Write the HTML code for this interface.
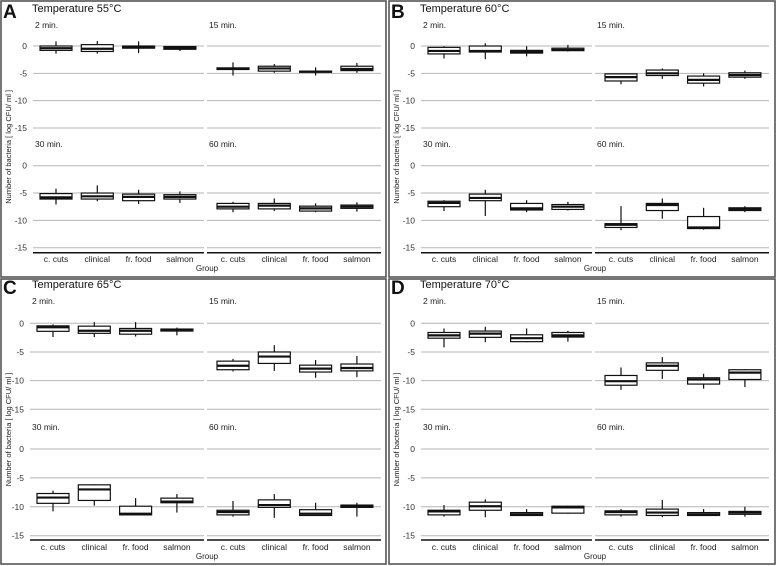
<!DOCTYPE html>
<html><head><meta charset="utf-8"><style>
html,body{margin:0;padding:0;background:#fff;}
svg{display:block;font-family:"Liberation Sans",sans-serif;}
</style></head><body>
<svg id="chart" width="777" height="566" viewBox="0 0 777 566" xmlns="http://www.w3.org/2000/svg"></svg>
<script>
const categories = ["c. cuts","clinical","fr. food","salmon"];
const timeLabels = ["2 min.","15 min.","30 min.","60 min."];
const yTicks = [0,-5,-10,-15];
const panelLetters = ["A","B","C","D"];
const panelTemps = ["Temperature 55°C","Temperature 60°C","Temperature 65°C","Temperature 70°C"];

// Each array: 16 values = 4 time subpanels x 4 categories
const A_lo  = [-1.4,-1.4,-1.3,-0.9, -5.4,-4.9,-5.4,-4.9, -7.1,-6.5,-7.0,-6.8, -8.5,-8.3,-8.5,-8.4];
const A_q1  = [-0.8,-1.0,-0.4,-0.6, -4.3,-4.6,-4.8,-4.5, -6.1,-6.1,-6.4,-6.1, -7.9,-7.9,-8.3,-7.8];
const A_med = [-0.4,-0.5,-0.2,-0.35,-4.15,-4.1,-4.7,-4.2, -5.8,-5.6,-5.7,-5.7, -7.5,-7.3,-7.8,-7.5];
const A_q3  = [0.0,0.25,0.0,-0.1, -4.0,-3.7,-4.6,-3.7, -5.1,-5.0,-5.2,-5.3, -6.9,-6.9,-7.4,-7.2];
const A_hi  = [0.85,0.9,0.85,-0.05, -3.0,-3.3,-3.9,-3.1, -4.2,-3.6,-4.4,-4.7, -6.6,-6.0,-6.9,-6.7];

const B_lo  = [-2.3,-2.4,-1.9,-1.0, -7.0,-6.0,-7.4,-6.0, -8.3,-9.2,-8.5,-8.2, -11.8,-9.7,-11.7,-8.5];
const B_q1  = [-1.45,-1.1,-1.3,-0.85, -6.4,-5.4,-6.8,-5.7, -7.5,-6.4,-8.1,-8.0, -11.3,-8.2,-11.5,-8.2];
const B_med = [-0.9,-0.9,-1.1,-0.7, -5.7,-5.0,-6.2,-5.3, -6.8,-5.9,-7.8,-7.5, -10.8,-7.2,-11.3,-7.9];
const B_q3  = [-0.25,0.0,-0.8,-0.4, -5.1,-4.4,-5.5,-4.9, -6.5,-5.2,-6.9,-7.1, -10.6,-6.9,-9.3,-7.7];
const B_hi  = [-0.05,0.5,-0.05,0.2, -5.1,-4.1,-5.0,-4.5, -6.3,-4.4,-6.3,-6.6, -7.4,-6.0,-7.7,-7.4];

const C_lo  = [-2.4,-2.4,-2.3,-2.1, -8.4,-8.3,-9.5,-9.4, -10.8,-9.8,-11.4,-11.0, -11.7,-11.9,-11.4,-11.7];
const C_q1  = [-1.4,-1.75,-1.9,-1.35, -8.1,-7.0,-8.5,-8.3, -9.4,-8.9,-11.4,-9.3, -11.4,-10.1,-11.5,-10.1];
const C_med = [-0.7,-1.3,-1.3,-1.2, -7.4,-5.8,-7.9,-7.8, -8.4,-7.0,-11.2,-9.1, -10.9,-9.7,-11.2,-9.9];
const C_q3  = [-0.45,-0.5,-0.9,-1.0, -6.6,-5.0,-7.3,-7.1, -7.7,-6.2,-9.9,-8.5, -10.6,-8.8,-10.5,-9.7];
const C_hi  = [-0.2,0.2,0.2,-0.75, -6.2,-3.8,-6.4,-5.7, -7.2,-6.1,-8.5,-7.8, -9.0,-7.8,-9.3,-9.3];

const D_lo  = [-4.2,-3.3,-3.3,-3.2, -11.6,-9.7,-11.4,-11.1, -11.7,-11.8,-11.5,-11.2, -11.7,-11.8,-11.5,-11.7];
const D_q1  = [-2.6,-2.45,-3.2,-2.4, -10.8,-8.2,-10.6,-9.8, -11.4,-10.6,-11.5,-11.1, -11.4,-11.5,-11.5,-11.3];
const D_med = [-2.1,-1.8,-2.6,-2.1, -10.1,-7.4,-9.8,-8.6, -10.8,-9.9,-11.3,-10.1, -10.9,-11.0,-11.3,-11.0];
const D_q3  = [-1.6,-1.35,-2.0,-1.6, -9.1,-6.9,-9.5,-8.1, -10.6,-9.2,-11.0,-9.9, -10.7,-10.4,-11.0,-10.8];
const D_hi  = [-0.9,-0.6,-0.9,-1.3, -7.7,-5.9,-8.8,-8.0, -9.7,-8.7,-10.4,-9.8, -10.4,-8.8,-10.4,-10.0];

const panelData = [
  [A_lo,A_q1,A_med,A_q3,A_hi],
  [B_lo,B_q1,B_med,B_q3,B_hi],
  [C_lo,C_q1,C_med,C_q3,C_hi],
  [D_lo,D_q1,D_med,D_q3,D_hi]
];

const NS = "http://www.w3.org/2000/svg";
const svg = document.getElementById("chart");
function mk(tag, attrs, parent, text){
  const e = document.createElementNS(NS, tag);
  for (const k in attrs) e.setAttribute(k, attrs[k]);
  if (text !== undefined) e.textContent = text;
  (parent || svg).appendChild(e);
  return e;
}

const layouts = [
  {ox:0,   L:33, top:[46,128],   bot:[165.7,247.7], axis:252.7, cat:262, grp:271, sub:[28,147],    title:12,  box:[1,1,385,276]},
  {ox:388, L:33, top:[46,128],   bot:[165.7,247.7], axis:252.7, cat:262, grp:271, sub:[28,147],    title:12,  box:[389,1,386,276]},
  {ox:0,   L:30, top:[323.3,409.3], bot:[449,535.7], axis:540, cat:550, grp:559, sub:[304,430], title:288, box:[1,279,385,285]},
  {ox:388, L:33, top:[323.3,409.3], bot:[449,535.7], axis:540, cat:550, grp:559, sub:[304,430], title:288, box:[389,279,386,285]}
];

layouts.forEach((lay, p) => {
  const g = mk("g", {});
  
  
  const ox = lay.ox;
  const frame = mk("rect", {x:lay.box[0], y:lay.box[1], width:lay.box[2], height:lay.box[3], fill:"none", stroke:"#555", "stroke-width":1.6}, g);
  
  
  const letter = mk("text", {x:ox+3, y:lay.title+6, "font-size":19, "font-weight":"bold", fill:"#111"}, g, panelLetters[p]);
  
  
  const tt = mk("text", {x:ox+32, y:lay.title, "font-size":11, fill:"#111"}, g, panelTemps[p]);
  
  
  const yt = mk("text", {x:0, y:0, "font-size":7.5, fill:"#222", "text-anchor":"middle",
    transform:"translate("+(ox+11)+","+((lay.top[0]+lay.bot[1])/2)+") rotate(-90)"}, g, "Number of bacteria [ log CFU/ ml ]");
  
  
  const gt = mk("text", {x:ox+207, y:lay.grp, "font-size":8, fill:"#222", "text-anchor":"middle"}, g, "Group");
  
  

  const [lo,q1,med,q3,hi] = panelData[p];
  for (let s = 0; s < 4; s++) {
    const row = s < 2 ? 0 : 1, col = s % 2;
    const yr = row === 0 ? lay.top : lay.bot;
    const yScale = v => yr[0] + (-v/15)*(yr[1]-yr[0]);
    const x0 = ox + (col === 0 ? lay.L : 207);
    const x1 = ox + (col === 0 ? 204 : 381);
    const cx = i => x0 + (col === 0 ? 23 : 26) + i*41.3;
    const sg = mk("g", {}, g);
    
    
    const sl = mk("text", {x:x0+2, y:lay.sub[row], "font-size":8.5, fill:"#222"}, sg, timeLabels[s]);
    
    
    yTicks.forEach(t => {
      const gl = mk("line", {x1:x0, x2:x1, y1:yScale(t), y2:yScale(t), stroke:"#b5b5b5", "stroke-width":1}, sg);
      
      
      if (col === 0) {
        const tl = mk("text", {x:x0-6, y:yScale(t)+3, "font-size":8.5, fill:"#333", "text-anchor":"end"}, sg, String(t));
        
        
      }
    });
    if (row === 1) {
      const ax = mk("line", {x1:x0, x2:x1, y1:lay.axis, y2:lay.axis, stroke:"#111", "stroke-width":1.5}, sg);
      
      
      categories.forEach((c, i) => {
        const cl = mk("text", {x:cx(i), y:lay.cat, "font-size":8.5, fill:"#222", "text-anchor":"middle"}, sg, c);
        
        
      });
    }
    categories.forEach((c, i) => {
      const k = s*4 + i;
      const bx = mk("g", {}, sg);
      
      
      const xc = cx(i), w = 32;
      mk("line", {x1:xc, x2:xc, y1:yScale(hi[k]), y2:yScale(lo[k]), stroke:"#111", "stroke-width":1.2}, bx);
      const yq3 = yScale(q3[k]), yq1 = yScale(q1[k]);
      mk("rect", {x:xc-w/2, y:yq3, width:w, height:Math.max(yq1-yq3,1), fill:"#fff", stroke:"#111", "stroke-width":1.2}, bx);
      mk("line", {x1:xc-w/2, x2:xc+w/2, y1:yScale(med[k]), y2:yScale(med[k]), stroke:"#111", "stroke-width":2.2}, bx);
    });
  }
});
</script>
</body></html>
